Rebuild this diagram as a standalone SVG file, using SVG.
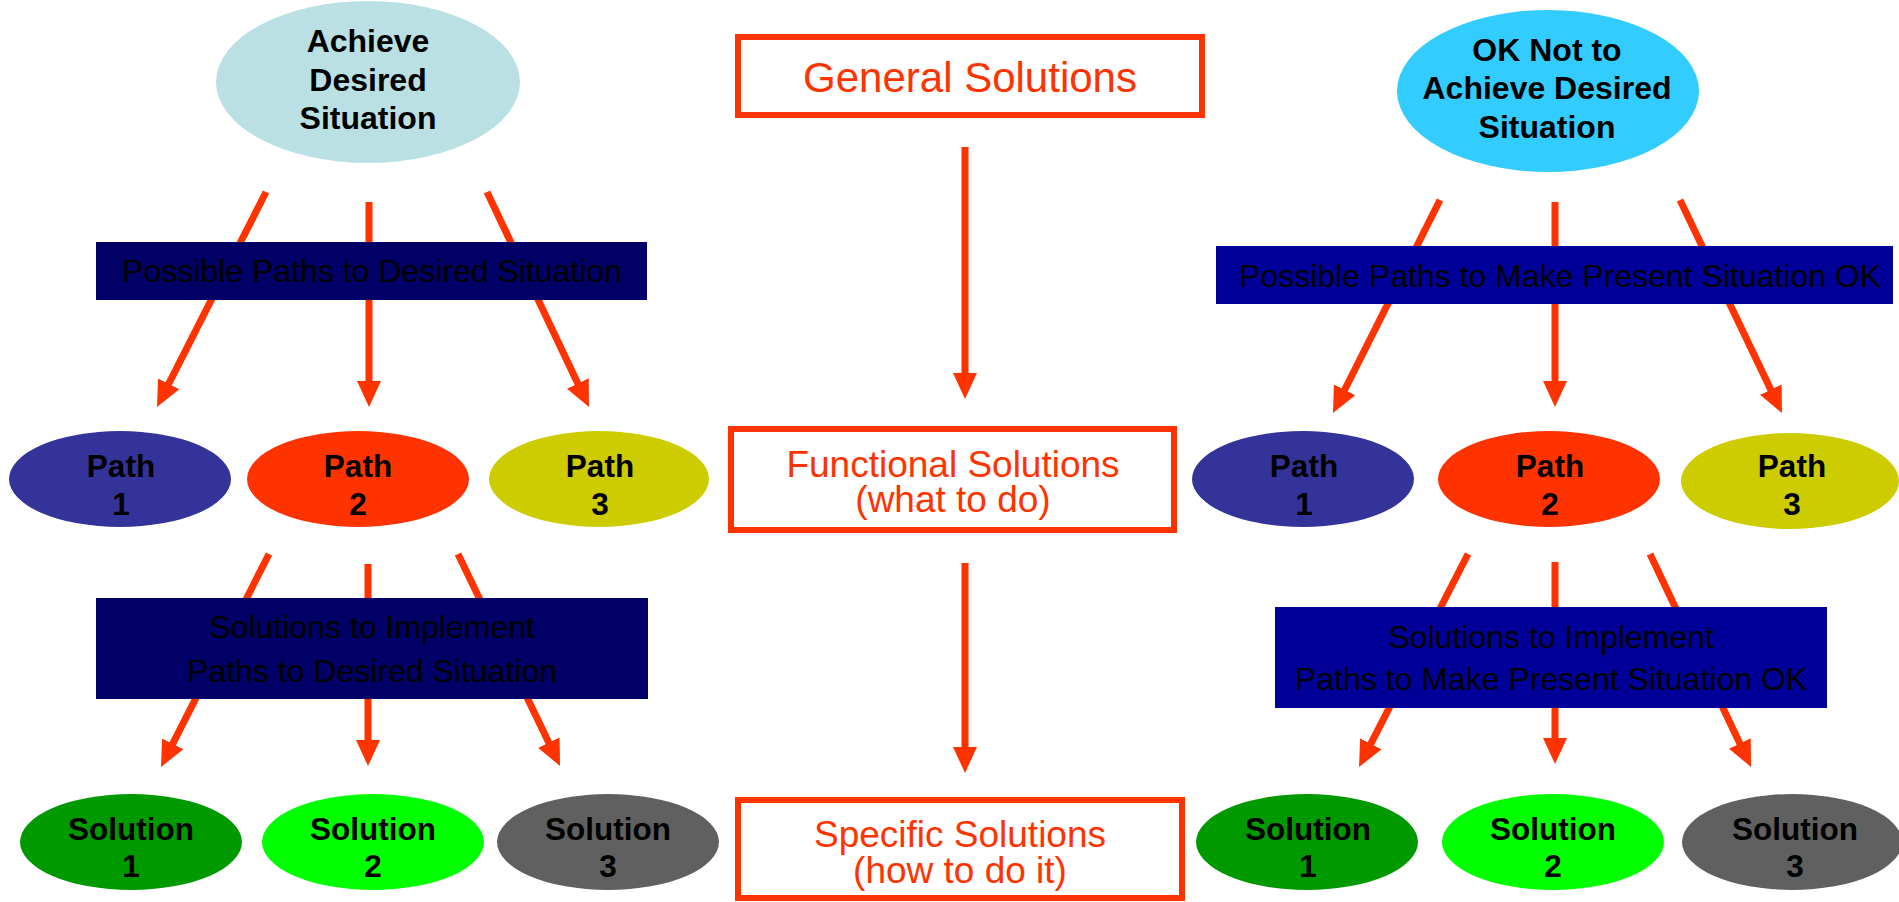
<svg xmlns="http://www.w3.org/2000/svg" width="1899" height="902" viewBox="0 0 1899 902">
  <style>
    .bold { font-family: "Liberation Sans", Arial, sans-serif; font-weight: bold; font-size: 32px; fill: #000; text-anchor: middle; }
    .lbl { font-family: "Liberation Sans", Arial, sans-serif; font-weight: bold; font-size: 31.5px; fill: #000; text-anchor: middle; }
    .band { font-family: "Liberation Sans", Arial, sans-serif; font-size: 32px; fill: #000; text-anchor: middle; }
    .boxtxt { font-family: "Liberation Sans", Arial, sans-serif; font-size: 37px; fill: #FF3300; text-anchor: middle; }
    .box { fill: #fff; stroke: #FF3300; stroke-width: 6; }
    .conn { stroke: #FF3300; stroke-width: 7; fill: none; marker-end: url(#head); }
  </style>
  <defs>
    <marker id="head" markerUnits="userSpaceOnUse" viewBox="0 -12 26 24" refX="1" refY="0" markerWidth="26" markerHeight="24" orient="auto">
      <path d="M0,-12 L26,0 L0,12 Z" fill="#FF3300"/>
    </marker>
  </defs>
  <rect width="1899" height="902" fill="#fff"/>

  <!-- connectors (drawn under the bands) -->
  <g id="connectors">
    <line class="conn" x1="266" y1="192" x2="168.3" y2="384.7"/>
    <line class="conn" x1="369" y1="202" x2="369" y2="382"/>
    <line class="conn" x1="487" y1="192" x2="578.3" y2="384.4"/>
    <line class="conn" x1="1440" y1="200" x2="1344.2" y2="390.7"/>
    <line class="conn" x1="1555" y1="202" x2="1555" y2="382"/>
    <line class="conn" x1="1680" y1="200" x2="1771.2" y2="390.5"/>
    <line class="conn" x1="269" y1="554" x2="172.3" y2="744.7"/>
    <line class="conn" x1="368" y1="564" x2="368" y2="741"/>
    <line class="conn" x1="458" y1="554" x2="549.2" y2="743.5"/>
    <line class="conn" x1="1468" y1="554" x2="1370.4" y2="744.7"/>
    <line class="conn" x1="1555" y1="562" x2="1555" y2="739"/>
    <line class="conn" x1="1650" y1="554" x2="1740.3" y2="744.4"/>
    <line class="conn" x1="965" y1="147" x2="965" y2="374"/>
    <line class="conn" x1="965" y1="563" x2="965" y2="748"/>
  </g>

  <!-- left column -->
  <g id="achieve">
    <ellipse cx="368" cy="82" rx="152" ry="81" fill="#BBE0E3"/>
    <text class="bold" x="368" y="52">Achieve</text>
    <text class="bold" x="368" y="91">Desired</text>
    <text class="bold" x="368" y="129">Situation</text>
  </g>
  <g id="band-paths-left">
    <rect x="96" y="242" width="551" height="58" fill="#000066"/>
    <text class="band" x="372" y="282">Possible Paths to Desired Situation</text>
  </g>
  <g id="path1-left">
    <ellipse cx="120" cy="479" rx="111" ry="48" fill="#333399"/>
    <text class="lbl" x="121" y="477">Path</text>
    <text class="lbl" x="121" y="515">1</text>
  </g>
  <g id="path2-left">
    <ellipse cx="358" cy="479" rx="111" ry="48" fill="#FF3300"/>
    <text class="lbl" x="358" y="477">Path</text>
    <text class="lbl" x="358" y="515">2</text>
  </g>
  <g id="path3-left">
    <ellipse cx="599" cy="479" rx="110" ry="48" fill="#CCCC00"/>
    <text class="lbl" x="600" y="477">Path</text>
    <text class="lbl" x="600" y="515">3</text>
  </g>
  <g id="band-solutions-left">
    <rect x="96" y="598" width="552" height="101" fill="#000066"/>
    <text class="band" x="372" y="638">Solutions to Implement</text>
    <text class="band" x="372" y="682">Paths to Desired Situation</text>
  </g>
  <g id="solution1-left">
    <ellipse cx="131" cy="842" rx="111" ry="48" fill="#009900"/>
    <text class="lbl" x="131" y="840">Solution</text>
    <text class="lbl" x="131" y="877">1</text>
  </g>
  <g id="solution2-left">
    <ellipse cx="373" cy="842" rx="111" ry="48" fill="#00FF00"/>
    <text class="lbl" x="373" y="840">Solution</text>
    <text class="lbl" x="373" y="877">2</text>
  </g>
  <g id="solution3-left">
    <ellipse cx="608" cy="842" rx="111" ry="48" fill="#606060"/>
    <text class="lbl" x="608" y="840">Solution</text>
    <text class="lbl" x="608" y="877">3</text>
  </g>

  <!-- centre column -->
  <g id="general">
    <rect class="box" x="738" y="37" width="464" height="78"/>
    <text class="boxtxt" x="970" y="92" style="font-size:42px">General Solutions</text>
  </g>
  <g id="functional">
    <rect class="box" x="731" y="429" width="443" height="101"/>
    <text class="boxtxt" x="953" y="477">Functional Solutions</text>
    <text class="boxtxt" x="953" y="512">(what to do)</text>
  </g>
  <g id="specific">
    <rect class="box" x="738" y="800" width="444" height="98"/>
    <text class="boxtxt" x="960" y="847">Specific Solutions</text>
    <text class="boxtxt" x="960" y="883">(how to do it)</text>
  </g>

  <!-- right column -->
  <g id="ok-not">
    <ellipse cx="1548" cy="91" rx="151" ry="81" fill="#33CCFF"/>
    <text class="bold" x="1547" y="61">OK Not to</text>
    <text class="bold" x="1547" y="99">Achieve Desired</text>
    <text class="bold" x="1547" y="138">Situation</text>
  </g>
  <g id="band-paths-right">
    <rect x="1216" y="246" width="677" height="58" fill="#000099"/>
    <text class="band" x="1560" y="287">Possible Paths to Make Present Situation OK</text>
  </g>
  <g id="path1-right">
    <ellipse cx="1303" cy="479" rx="111" ry="48" fill="#333399"/>
    <text class="lbl" x="1304" y="477">Path</text>
    <text class="lbl" x="1304" y="515">1</text>
  </g>
  <g id="path2-right">
    <ellipse cx="1549" cy="479" rx="111" ry="48" fill="#FF3300"/>
    <text class="lbl" x="1550" y="477">Path</text>
    <text class="lbl" x="1550" y="515">2</text>
  </g>
  <g id="path3-right">
    <ellipse cx="1790" cy="481" rx="109" ry="48" fill="#CCCC00"/>
    <text class="lbl" x="1792" y="477">Path</text>
    <text class="lbl" x="1792" y="515">3</text>
  </g>
  <g id="band-solutions-right">
    <rect x="1275" y="607" width="552" height="101" fill="#000099"/>
    <text class="band" x="1551" y="648">Solutions to Implement</text>
    <text class="band" x="1551" y="690">Paths to Make Present Situation OK</text>
  </g>
  <g id="solution1-right">
    <ellipse cx="1307" cy="842" rx="111" ry="48" fill="#009900"/>
    <text class="lbl" x="1308" y="840">Solution</text>
    <text class="lbl" x="1308" y="877">1</text>
  </g>
  <g id="solution2-right">
    <ellipse cx="1553" cy="842" rx="111" ry="48" fill="#00FF00"/>
    <text class="lbl" x="1553" y="840">Solution</text>
    <text class="lbl" x="1553" y="877">2</text>
  </g>
  <g id="solution3-right">
    <ellipse cx="1792" cy="842" rx="110" ry="48" fill="#606060"/>
    <text class="lbl" x="1795" y="840">Solution</text>
    <text class="lbl" x="1795" y="877">3</text>
  </g>
</svg>
